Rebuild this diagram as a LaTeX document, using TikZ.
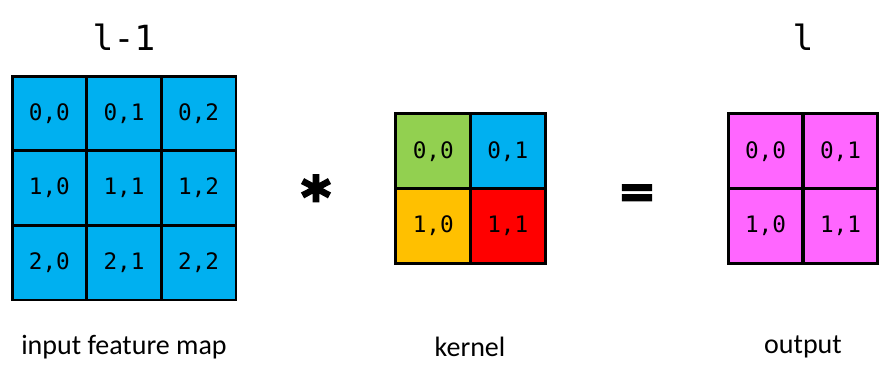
\documentclass[tikz,border=0pt]{standalone}
\usepackage{fontspec}
\setmainfont{Carlito}
\newfontfamily\cellmono{DejaVu Sans Mono}
\newfontface\heavyface{DejaVu Sans Bold}[RawFeature={embolden=4}]
\definecolor{cblue}{HTML}{00B0F0}
\definecolor{cgreen}{HTML}{92D050}
\definecolor{corange}{HTML}{FFC000}
\definecolor{cred}{HTML}{FF0000}
\definecolor{cpink}{HTML}{FF66FF}
\tikzset{
  cell/.style={draw=black, line width=2.2pt, minimum width=74.6*0.75pt, minimum height=74.6*0.75pt, inner sep=0pt, font=\cellmono\fontsize{17}{20}\selectfont, anchor=center},
  title/.style={font=\cellmono\fontsize{26}{30}\selectfont},
  caption/.style={font=\fontsize{21}{24}\selectfont},
  opsym/.style={font=\heavyface\fontsize{42}{48}\selectfont, inner sep=0pt}
}
\begin{document}
\begin{tikzpicture}[x=0.75pt,y=-0.75pt]
\useasboundingbox (0,0) rectangle (888,378);
% input grid
\foreach \r in {0,1,2}{
  \foreach \c in {0,1,2}{
    \node[cell, fill=cblue] (in\r\c) at ({12+74.67*(\c+0.5)},{76+74.67*(\r+0.5)}) {\r,\c};
  }
}
% kernel
\node[cell, fill=cgreen] (k00) at ({396+74.5*0.5},{114+74.5*0.5}) {0,0};
\node[cell, fill=cblue] (k01) at ({396+74.5*1.5},{114+74.5*0.5}) {0,1};
\node[cell, fill=corange] (k10) at ({396+74.5*0.5},{114+74.5*1.5}) {1,0};
\node[cell, fill=cred] (k11) at ({396+74.5*1.5},{114+74.5*1.5}) {1,1};
% output
\foreach \r in {0,1}{
  \foreach \c in {0,1}{
    \node[cell, fill=cpink] (out\r\c) at ({728+75*(\c+0.5)},{114+74.5*(\r+0.5)}) {\r,\c};
  }
}
\node[title] (tin) at (124,37) {l-1};
\node[title] (tout) at (803,37) {l};
\node[opsym] (star) at (316,196) {*};
\node[opsym, font=\heavyface\fontsize{34}{40}\selectfont] (eq) at (637,196) {=};
\node[caption] (cin) at (124,347) {input feature map};
\node[caption] (ck) at (470,347) {kernel};
\node[caption] (cout) at (803,347) {output};
\end{tikzpicture}
\end{document}
